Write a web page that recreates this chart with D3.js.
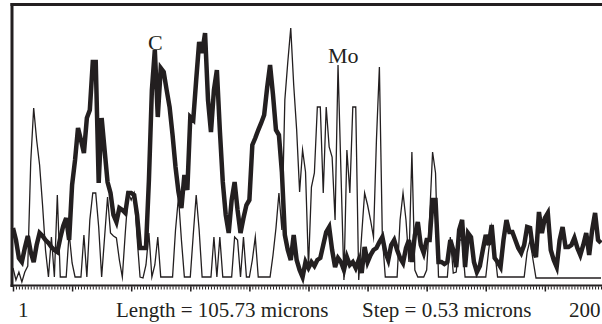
<!DOCTYPE html>
<html>
<head>
<meta charset="utf-8">
<script src="https://cdn.jsdelivr.net/npm/d3@7/dist/d3.min.js"></script>
<style>
  html, body { margin: 0; padding: 0; background: #fff; }
  svg { display: block; }
  text { font-family: "Liberation Serif", "Times New Roman", serif; fill: #231f20; }
</style>
</head>
<body>
<svg id="chart" width="602" height="324"></svg>
<script>
// Line scan profile: intensity of C and Mo at each step along the scan line
const pointIndex = d3.range(1, 201);

const carbon = [
  57, 45, 27, 23, 37, 49, 33, 23, 40, 52,
  49, 45, 42, 38, 35, 33, 47, 59, 67, 45,
  100, 125, 157, 145, 132, 167, 175, 223, 223, 102,
  167, 135, 103, 92, 70, 63, 77, 75, 72, 92,
  92, 90, 70, 37, 37, 37, 105, 195, 235, 168,
  217, 213, 195, 178, 150, 118, 93, 77, 110, 95,
  168, 165, 205, 243, 232, 252, 185, 153, 195, 215,
  155, 103, 70, 52, 85, 103, 75, 52, 67, 80,
  85, 140, 147, 155, 162, 170, 197, 220, 190, 155,
  150, 113, 50, 35, 25, 50, 25, 15, 8, 23,
  17, 23, 19, 25, 27, 40, 53, 58, 35, 18,
  27, 23, 15, 28, 20, 23, 17, 25, 12, 38,
  23, 30, 35, 37, 43, 48, 33, 25, 40, 45,
  35, 27, 22, 37, 45, 23, 50, 63, 40, 32,
  45, 45, 85, 85, 23, 23, 21, 23, 45, 35,
  18, 55, 65, 18, 52, 48, 23, 13, 19, 35,
  50, 40, 60, 27, 23, 18, 45, 65, 53, 53,
  45, 37, 32, 40, 58, 57, 35, 28, 73, 52,
  67, 72, 35, 25, 18, 45, 58, 38, 38, 40,
  47, 37, 30, 40, 52, 30, 55, 72, 45, 42
];

const molybdenum = [
  17, 5, 13, 3, 13, 19, 123, 177, 145, 120,
  80, 35, 8, 48, 8, 90, 8, 8, 8, 52,
  22, 8, 8, 8, 50, 8, 65, 92, 92, 58,
  8, 48, 88, 52, 49, 47, 25, 8, 52, 92,
  85, 92, 47, 8, 7, 20, 52, 8, 20, 48,
  8, 8, 8, 8, 8, 55, 88, 45, 8, 8,
  8, 50, 90, 55, 8, 8, 8, 8, 48, 8,
  48, 8, 8, 8, 8, 48, 45, 8, 48, 8,
  8, 25, 48, 8, 8, 8, 8, 8, 30, 57,
  92, 55, 185, 223, 257, 200, 155, 93, 135, 113,
  18, 98, 112, 178, 178, 92, 178, 138, 128, 65,
  220, 112, 5, 135, 92, 178, 178, 5, 50, 92,
  80, 65, 48, 145, 218, 48, 8, 8, 8, 8,
  8, 65, 92, 65, 23, 133, 15, 8, 8, 8,
  15, 68, 133, 112, 8, 8, 8, 8, 48, 12,
  13, 45, 45, 8, 8, 8, 8, 8, 8, 8,
  8, 35, 58, 35, 8, 8, 8, 8, 8, 8,
  8, 8, 8, 8, 33, 45, 25, 7, 7, 7,
  7, 7, 7, 7, 7, 7, 7, 7, 7, 7,
  7, 7, 7, 7, 7, 7, 7, 7, 7, 7
];

const seriesLabels = ["C", "Mo"];
const axisLabels = ["1", "Length = 105.73 microns", "Step = 0.53 microns", "200"];

const ink = "#231f20";
const svg = d3.select("#chart");

const x = d3.scaleLinear().domain([1, 200]).range([13, 601]);
const y = d3.scaleLinear().domain([0, 281]).range([285, 4]);

const line = d3.line()
  .x((d, i) => x(pointIndex[i]))
  .y(d => y(d));

// Traces: Mo thin underneath, C heavy on top
svg.append("path")
  .datum(molybdenum)
  .attr("d", line)
  .attr("fill", "none")
  .attr("stroke", ink)
  .attr("stroke-width", 1.3)
  .attr("stroke-linejoin", "miter")
  .attr("stroke-miterlimit", 10);

svg.append("path")
  .datum(carbon)
  .attr("d", line)
  .attr("fill", "none")
  .attr("stroke", ink)
  .attr("stroke-width", 4.5)
  .attr("stroke-linejoin", "miter")
  .attr("stroke-miterlimit", 4);

// Frame: heavy top and left edges, baseline axis
svg.append("line")
  .attr("x1", 10.5).attr("x2", 602)
  .attr("y1", 4.5).attr("y2", 4.5)
  .attr("stroke", ink).attr("stroke-width", 3);
svg.append("line")
  .attr("x1", 12).attr("x2", 12)
  .attr("y1", 3).attr("y2", 287)
  .attr("stroke", ink).attr("stroke-width", 3);
svg.append("line")
  .attr("x1", 10.5).attr("x2", 602)
  .attr("y1", 285.5).attr("y2", 285.5)
  .attr("stroke", ink).attr("stroke-width", 2);

// Step ticks along the scan axis
const minorAxis = d3.axisBottom(x)
  .tickValues(pointIndex)
  .tickSize(3)
  .tickFormat("");
const minorG = svg.append("g")
  .attr("transform", "translate(0,286.5)")
  .call(minorAxis);
minorG.select(".domain").remove();
minorG.selectAll(".tick line").attr("stroke", ink).attr("stroke-width", 1);

const majorAxis = d3.axisBottom(x)
  .tickValues(pointIndex.filter(v => (v - 1) % 20 === 0))
  .tickSize(5)
  .tickFormat("");
const majorG = svg.append("g")
  .attr("transform", "translate(0,286.5)")
  .call(majorAxis);
majorG.select(".domain").remove();
majorG.selectAll(".tick line").attr("stroke", ink).attr("stroke-width", 1.5);

// Element labels over their peaks
svg.append("text")
  .attr("x", 148).attr("y", 50)
  .attr("font-size", 22)
  .text(seriesLabels[0]);
svg.append("text")
  .attr("x", 328).attr("y", 63)
  .attr("font-size", 22)
  .text(seriesLabels[1]);

// Bottom annotation row
const labelX = [18, 116, 362, 569];
svg.selectAll("text.axis-label")
  .data(axisLabels)
  .join("text")
  .attr("class", "axis-label")
  .attr("x", (d, i) => labelX[i])
  .attr("y", 317)
  .attr("font-size", 21)
  .text(d => d);
</script>
</body>
</html>
